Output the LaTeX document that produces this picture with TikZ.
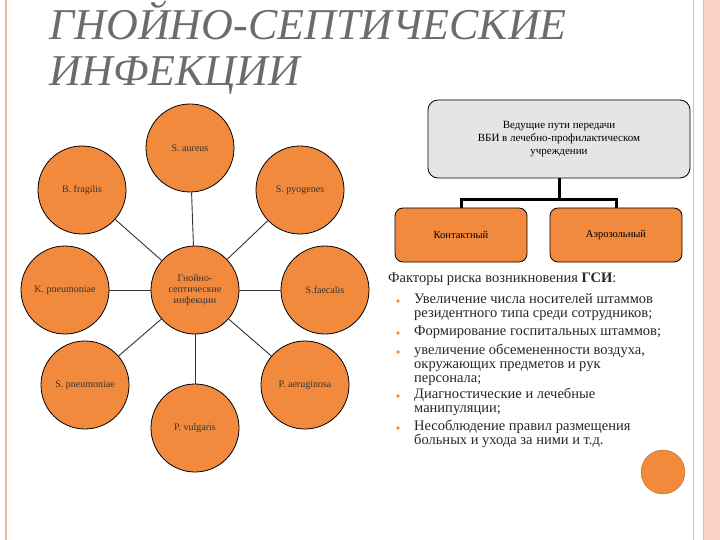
\documentclass[tikz,border=0pt]{standalone}
\usepackage{fontspec}
\setmainfont{Liberation Serif}
\begin{document}
\begin{tikzpicture}[x=1pt,y=-1pt,
  orb/.style={circle,draw=black,line width=0.8pt,fill=orgc,minimum size=88pt,inner sep=0pt,font=\fontsize{10}{11}\selectfont,align=center,text=black!80},
  box/.style={draw=black,line width=0.8pt,rounded corners=8pt,fill=orgc,minimum width=132pt,minimum height=54pt,font=\fontsize{10.5}{11}\selectfont},
  spoke/.style={draw=black!80,line width=0.9pt},
  tree/.style={draw=black,line width=3pt}]
\definecolor{orgc}{HTML}{F28A3E}
\definecolor{pinkb}{HTML}{F6B5A0}
\useasboundingbox (0,0) rectangle (720,540);
\fill[white] (0,0) rectangle (720,540);
% borders
\fill[pinkb!60] (703,0) rectangle (720,540);
\draw[pinkb,line width=1pt] (703,0) -- (703,540);
\draw[pinkb,line width=1pt] (693,0) -- (693,540);
\draw[pinkb,line width=1.2pt] (6,0) -- (6,540);
% title
\node[anchor=west,text=gray!85!black,font=\fontsize{44}{48}\itshape] (t1) at (46,20) {ГНОЙНО-СЕПТИЧЕСКИЕ};
\node[anchor=west,text=gray!85!black,font=\fontsize{44}{48}\itshape] (t2) at (46,76) {ИНФЕКЦИИ};
% circles
\node[orb] (c) at (195,290) {Гнойно-\\септические\\инфекции};
\node[orb] (a) at (190,148) {S. aureus};
\node[orb] (bf) at (82,190) {B. fragilis};
\node[orb] (sp) at (300,190) {S. pyogenes};
\node[orb] (kp) at (65,290) {K. pneumoniae};
\node[orb] (sf) at (325,290) {S.faecalis};
\node[orb] (pn) at (85,385) {S. pneumoniae};
\node[orb] (pa) at (305,385) {P. aeruginosa};
\node[orb] (pv) at (195,428) {P. vulgaris};
\foreach \n in {a,bf,sp,kp,sf,pn,pa,pv} \draw[spoke] (c) -- (\n);
% right tree
\node[draw=black,line width=0.8pt,rounded corners=10pt,fill=gray!20,minimum width=262pt,minimum height=78pt,align=center,font=\fontsize{11}{13}\selectfont] (g) at (559,139) {Ведущие пути передачи\\ВБИ в лечебно-профилактическом\\учреждении};
\node[box] (k) at (461,235) {Контактный};
\node[box] (ae) at (616,235) {Аэрозольный};
\coordinate (j) at (559,200);
\draw[tree] (g.south) -- (j);
\draw[tree] (k.north) |- (j) -| (ae.north);
% list
\node[anchor=north west,inner sep=0pt,font=\fontsize{14.5}{14}\selectfont,text=black!85] (lt) at (388,273) {Факторы риска возникновения \textbf{ГСИ}:};
\begin{scope}[every node/.style={anchor=north west,inner sep=0pt,align=left,font=\fontsize{14.5}{14}\selectfont,text=black!85}]
\node (l1) at (414,293) {Увеличение числа носителей штаммов\\резидентного типа среди сотрудников;};
\node (l2) at (414,326) {Формирование госпитальных штаммов;};
\node (l3) at (414,344) {увеличение обсемененности воздуха,\\окружающих предметов и рук\\персонала;};
\node (l4) at (414,388) {Диагностические и лечебные\\манипуляции;};
\node (l5) at (414,420) {Несоблюдение правил размещения\\больных и ухода за ними и т.д.};
\end{scope}
\foreach \y in {301,333,352,396,428} \fill[orgc] (398,\y) circle (1.8pt);
\node[circle,fill=orgc,draw=orgc!80!black,minimum size=44pt,inner sep=0pt] (dot) at (663,472) {};
\end{tikzpicture}
\end{document}
